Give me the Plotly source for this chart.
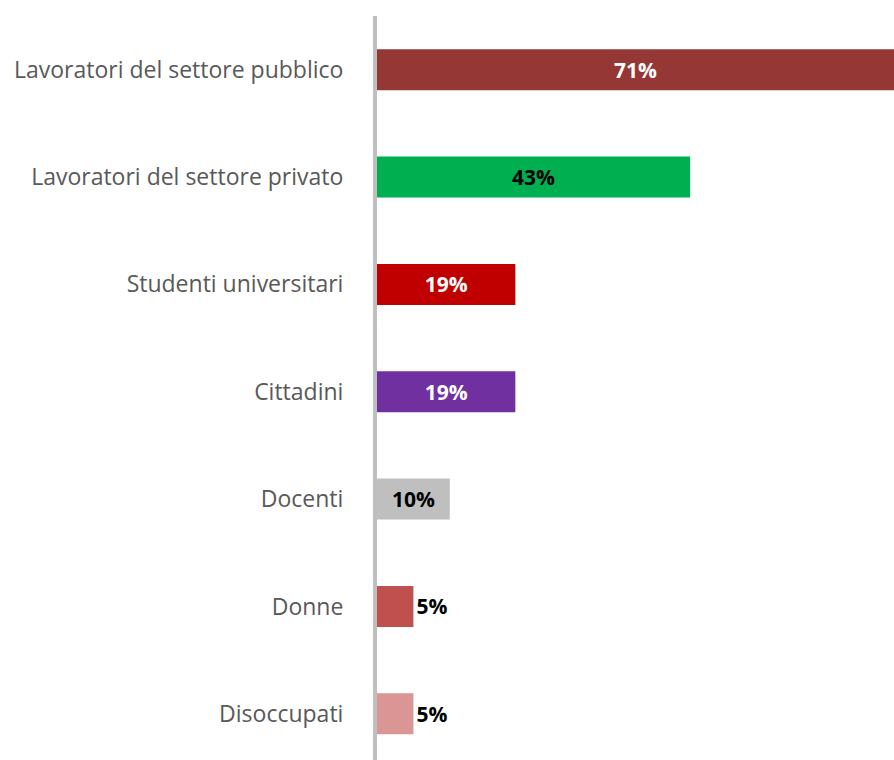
import plotly.graph_objects as go

categories = [
    "Lavoratori del settore pubblico",
    "Lavoratori del settore privato",
    "Studenti universitari",
    "Cittadini",
    "Docenti",
    "Donne",
    "Disoccupati",
]
values = [71, 43, 19, 19, 10, 5, 5]
bar_colors = ["#953735", "#00B050", "#C00000", "#7030A0", "#BFBFBF", "#C0504D", "#D99694"]
label_colors = ["#FFFFFF", "#000000", "#FFFFFF", "#FFFFFF", "#000000", "#000000", "#000000"]
label_positions = ["inside", "inside", "inside", "inside", "inside", "outside", "outside"]

fig = go.Figure(
    go.Bar(
        y=categories,
        x=values,
        orientation="h",
        marker=dict(color=bar_colors, line=dict(width=0)),
        text=[f"{v}%" for v in values],
        textposition=label_positions,
        insidetextanchor="middle",
        textfont=dict(family="Open Sans, Lato, sans-serif", size=21, color=label_colors, weight="bold"),
        constraintext="none",
        cliponaxis=False,
        hoverinfo="skip",
    )
)

fig.update_layout(
    width=894,
    height=760,
    margin=dict(l=377, r=0, t=16, b=0),
    paper_bgcolor="white",
    plot_bgcolor="white",
    bargap=0.618,
    showlegend=False,
    xaxis=dict(range=[0, 71], visible=False, fixedrange=True),
    yaxis=dict(
        range=[6.43, -0.5],
        showline=True,
        linecolor="#BFBFBF",
        linewidth=4,
        showgrid=False,
        zeroline=False,
        ticks="",
        ticklabelstandoff=25,
        tickfont=dict(family="Open Sans, Lato, sans-serif", size=23, color="#595959"),
    ),
)

fig.write_html("out.html")
